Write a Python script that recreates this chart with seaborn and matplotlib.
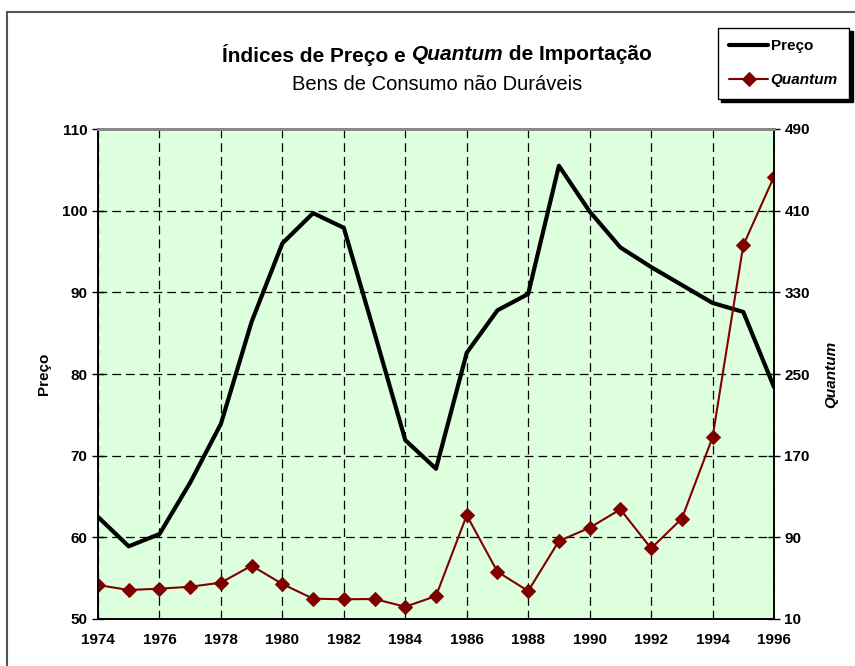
import matplotlib
matplotlib.use("Agg")
import matplotlib.pyplot as plt
import seaborn as sns
import pandas as pd
from matplotlib.patches import Rectangle

years = list(range(1974, 1997))
preco = [62.5, 58.9, 60.4, 66.7, 73.9, 86.4, 96.0, 99.7, 97.9, 85.0, 71.9, 68.4,
         82.6, 87.8, 89.8, 105.5, 99.9, 95.5, 93.1, 90.9, 88.7, 87.6, 78.4]
quantum = [43.3, 38.4, 39.7, 41.6, 45.6, 62.2, 44.3, 29.9, 29.3, 29.6, 22.0, 32.5,
           111.6, 56.3, 37.4, 86.4, 99.4, 117.4, 79.2, 108.3, 187.9, 376.1, 443.3]
x_ticks = list(range(1974, 1997, 2))
preco_ticks = [50, 60, 70, 80, 90, 100, 110]
quantum_ticks = [10, 90, 170, 250, 330, 410, 490]

df = pd.DataFrame({"Ano": years, "Preço": preco, "Quantum": quantum})

sns.set_style("white")
plt.rcParams["font.family"] = ["Liberation Sans", "DejaVu Sans"]
plt.rcParams["text.color"] = "black"
plt.rcParams["axes.labelcolor"] = "black"

W, H = 855, 666
fig = plt.figure(figsize=(W / 100, H / 100), dpi=100)
fig.patch.set_facecolor("white")
ax = fig.add_axes([98 / W, 1 - 619 / H, (774 - 98) / W, (619 - 129) / H])
ax.set_facecolor("#DDFFDD")

# outer figure border
fig.patches.append(Rectangle((7 / W, -0.05), 1.2, 1 - 12 / H + 0.05, transform=fig.transFigure,
                             fill=False, edgecolor="#555555", linewidth=1.5))

sns.lineplot(data=df, x="Ano", y="Preço", ax=ax, color="black", linewidth=3,
             label="Preço", legend=False)
ax.set_xlim(1974, 1996)
ax.set_ylim(50, 110)
ax.set_xticks(x_ticks)
ax.set_yticks(preco_ticks)
ax.grid(True, color="black", linestyle=(0, (7, 4)), linewidth=0.9)
ax.set_axisbelow(True)

ax2 = ax.twinx()
sns.lineplot(data=df, x="Ano", y="Quantum", ax=ax2, color="#800000", linewidth=1.5,
             marker="D", markersize=7, markeredgecolor="#800000", label="Quantum", legend=False)
ax2.set_ylim(10, 490)
ax2.set_yticks(quantum_ticks)
ax2.grid(False)

for a in (ax, ax2):
    for s in a.spines.values():
        s.set_color("black")
        s.set_linewidth(1.2)
    a.spines["top"].set_color("#888888")
    a.spines["top"].set_linewidth(2)

ax.tick_params(axis="both", direction="inout", length=8, width=1, labelsize=11,
               colors="black", labelcolor="black")
ax2.tick_params(axis="y", direction="inout", length=8, width=1, labelsize=11,
                colors="black", labelcolor="black")
for lbl in ax.get_xticklabels() + ax.get_yticklabels() + ax2.get_yticklabels():
    lbl.set_fontweight("bold")
ax.tick_params(axis="x", pad=6)

ax.set_xlabel("")
ax.set_ylabel("Preço", fontsize=11, fontweight="bold", labelpad=8, color="black")
ax2.set_ylabel("Quantum", fontsize=11, fontweight="bold", fontstyle="italic",
               rotation=90, labelpad=10, color="black")

# title with mixed italics
fig.canvas.draw()
renderer = fig.canvas.get_renderer()
parts = [("Índices de Preço e ", "normal"), ("Quantum", "italic"), (" de Importação", "normal")]
texts = []
for s, st in parts:
    t = fig.text(0, 1 - 55 / H, s, fontsize=15, fontweight="bold", fontstyle=st,
                 va="center", color="black")
    texts.append(t)
widths = [t.get_window_extent(renderer).width for t in texts]
total = sum(widths)
x0 = 437 - total / 2
for t, w in zip(texts, widths):
    t.set_x(x0 / W)
    x0 += w
fig.text(437 / W, 1 - 85 / H, "Bens de Consumo não Duráveis", fontsize=14.5, ha="center",
         va="center", color="black")

# legend
h1, l1 = ax.get_legend_handles_labels()
h2, l2 = ax2.get_legend_handles_labels()
leg = fig.legend(h1 + h2, l1 + l2, loc="upper left", bbox_to_anchor=(718 / W, 1 - 28 / H),
                 frameon=True, fancybox=False, shadow={"color": "black", "alpha": 1, "ox": 2.5, "oy": -2.5},
                 edgecolor="black", fontsize=11, handlelength=2.5, handletextpad=0.2,
                 borderpad=0.75, labelspacing=1.3, borderaxespad=0)
leg.get_frame().set_linewidth(1)
for t in leg.get_texts():
    t.set_fontweight("bold")
    t.set_color("black")
leg.get_texts()[1].set_fontstyle("italic")

fig.savefig("out.png", dpi=100)
